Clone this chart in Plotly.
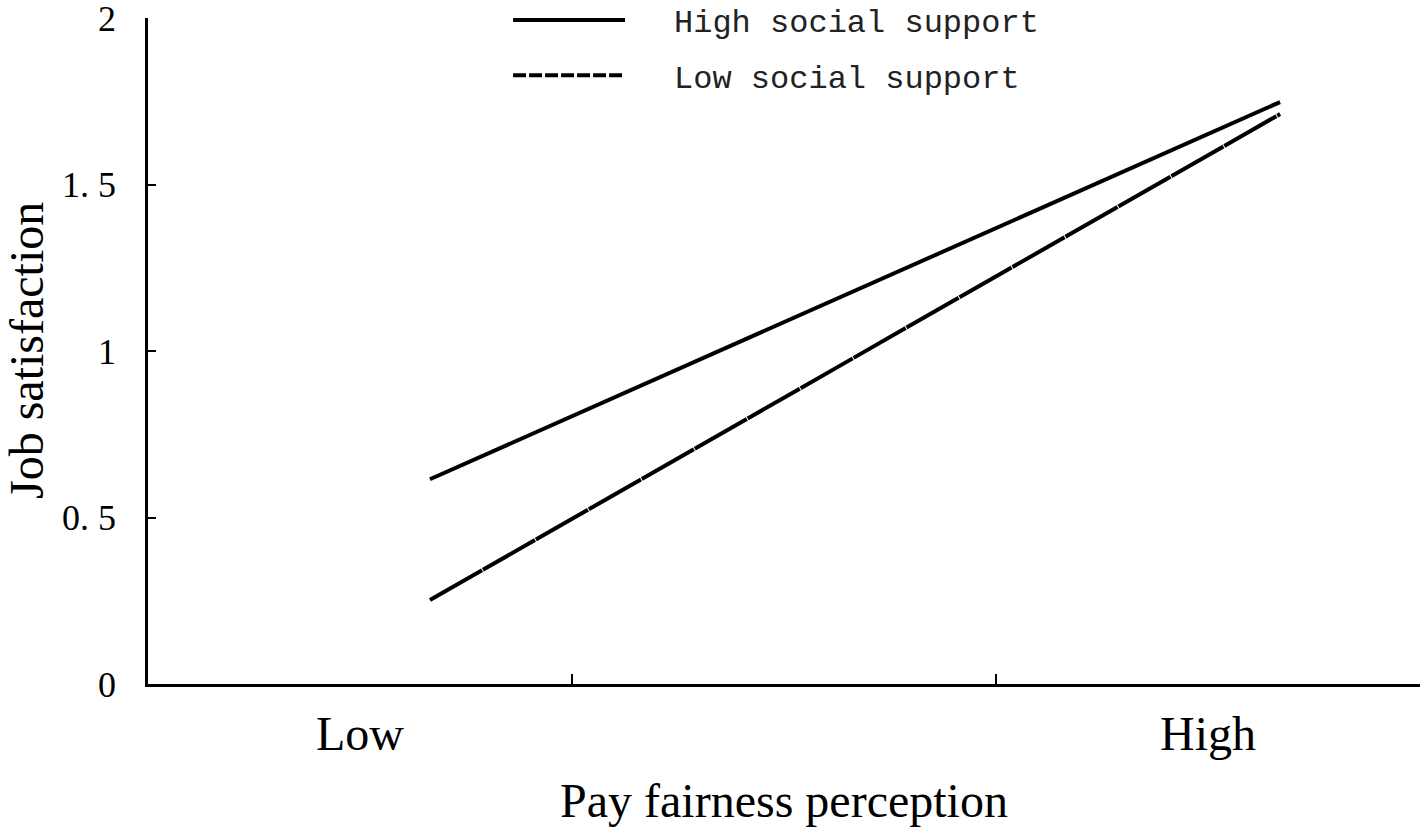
"""Simple slopes plot: job satisfaction by pay fairness perception."""

import plotly.graph_objects as go

# data
x_levels = [0.665, 2.67]          # low / high pay fairness (x axis units)
high_support = [0.615, 1.748]
low_support = [0.252, 1.712]
category_labels = ["Low", "High"]
category_pos = [0.5, 2.5]
y_ticks = [0, 0.5, 1, 1.5, 2]
y_ticktext = ["0", "0. 5", "1", "1. 5", "2"]

SERIF = "Liberation Serif, Times New Roman, serif"
MONO = "Liberation Mono, Courier New, monospace"

fig = go.Figure()
fig.add_trace(go.Scatter(
    x=x_levels, y=high_support, mode="lines", name="High social support",
    line=dict(color="black", width=4),
))
fig.add_trace(go.Scatter(
    x=x_levels, y=low_support, mode="lines", name="Low social support",
    line=dict(color="black", width=4, dash="60px,1px"),
))

# category labels under the axis
for label, pos in zip(category_labels, category_pos):
    fig.add_annotation(
        x=pos, y=0, xref="x", yref="y", text=label, showarrow=False,
        yanchor="middle", yshift=-49, font=dict(family=SERIF, size=48, color="black"),
    )

# y title as an annotation so it can sit close to the page edge
fig.add_annotation(
    x=0, y=0.5, xref="paper", yref="paper", text="Job satisfaction", showarrow=False,
    textangle=-90, xanchor="center", yanchor="middle", xshift=-122,
    font=dict(family=SERIF, size=48, color="black"),
)

# hand-drawn legend (long line samples like the original)
legend_rows = [
    ("High social support", 0.997, 0.991, "solid"),
    ("Low social support", 0.914, 0.908, "13px,3px"),
]
for text, line_y, text_y, dash in legend_rows:
    fig.add_shape(
        type="line", xref="paper", yref="paper", x0=0.287, x1=0.375, y0=line_y, y1=line_y,
        line=dict(color="black", width=4, dash=dash),
    )
    fig.add_annotation(
        x=0.412, y=text_y, xref="paper", yref="paper", text=text, showarrow=False,
        xanchor="left", yanchor="middle", font=dict(family=MONO, size=32, color="#222"),
    )

fig.update_layout(
    width=1425, height=836,
    paper_bgcolor="white", plot_bgcolor="white",
    margin=dict(l=148, r=5, t=18, b=152),
    showlegend=False,
    xaxis=dict(
        range=[0, 3], tickvals=[1, 2, 3], ticks="inside", ticklen=10, tickwidth=2,
        tickcolor="black", showticklabels=False, showgrid=False, zeroline=False,
        showline=True, linecolor="black", linewidth=2.5, automargin=False,
        title=dict(text="Pay fairness perception", standoff=98,
                   font=dict(family=SERIF, size=48, color="black")),
    ),
    yaxis=dict(
        range=[0, 2.0005], tickvals=y_ticks, ticktext=y_ticktext, ticks="inside", ticklen=8,
        tickwidth=2, tickcolor="black", showgrid=False, zeroline=False, automargin=False,
        showline=True, linecolor="black", linewidth=2.5, ticklabelstandoff=22,
        ticklabeloverflow="allow",
        tickfont=dict(family=SERIF, size=36, color="black"),
    ),
)

# drop the default body margin so the figure fills the window from the corner
fig.write_html(
    "out.html",
    config={"displayModeBar": False},
    post_script="document.body.style.margin = '0';",
)
